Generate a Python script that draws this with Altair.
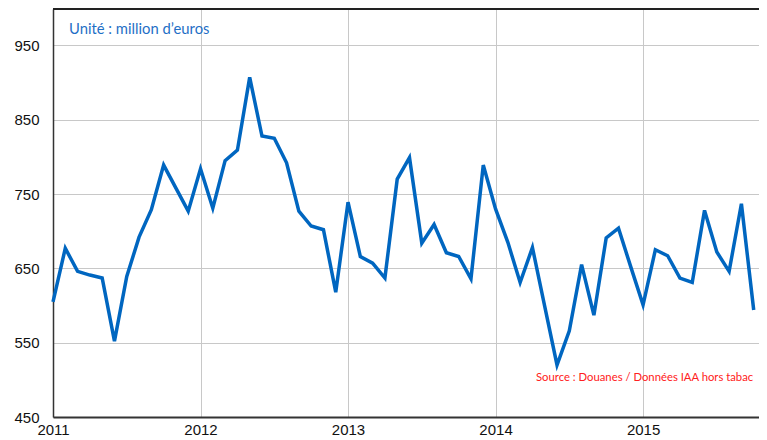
import altair as alt
import pandas as pd

# Monthly values, Jan 2011 .. Oct 2015 (million euros)
v2011 = [605, 677, 646, 641, 637, 552, 639, 692, 729, 789, 758, 727]
v2012 = [784, 731, 795, 809, 907, 828, 825, 792, 727, 707, 702, 618]
v2013 = [739, 666, 657, 637, 770, 799, 684, 709, 671, 666, 636, 789]
v2014 = [730, 685, 631, 678, 599, 520, 566, 655, 587, 691, 704, 652]
v2015 = [601, 675, 667, 637, 631, 728, 672, 646, 737, 594]

values = v2011 + v2012 + v2013 + v2014 + v2015
months = list(range(len(values)))
year_ticks = [0, 12, 24, 36, 48]
y_ticks = [450, 550, 650, 750, 850, 950]

unit_text = ["Unité : million d’euros"]
source_text = ["Source : Douanes / Données IAA hors tabac"]

df = pd.DataFrame({"m": months, "v": values})

W, H = 713, 408
FONT = "Liberation Sans"

x_enc = alt.X(
    "m:Q",
    scale=alt.Scale(domain=[0, 58], nice=False, zero=False),
    axis=alt.Axis(
        values=year_ticks,
        labelExpr="2011 + datum.value / 12",
        title=None,
        ticks=False,
        labelFontSize=15,
        labelFont=FONT,
        labelColor="#111111",
        labelPadding=5,
        labelFlush=False,
        domainColor="#333333",
        domainWidth=2,
        gridColor="#C8C8C8",
        gridWidth=1,
    ),
)
y_enc = alt.Y(
    "v:Q",
    scale=alt.Scale(domain=[450, 999], nice=False, zero=False),
    axis=alt.Axis(
        values=y_ticks,
        title=None,
        ticks=False,
        labelFontSize=15,
        labelFont=FONT,
        labelColor="#111111",
        labelPadding=14,
        domainColor="#333333",
        domainWidth=1.5,
        gridColor="#C8C8C8",
        gridWidth=1,
    ),
)

line = alt.Chart(df).mark_line(color="#0066C0", strokeWidth=3.5, strokeJoin="miter").encode(
    x=x_enc, y=y_enc
)

top_border = alt.Chart(df).mark_rule(color="#222222", strokeWidth=2).encode(
    x=alt.value(0), x2=alt.value(W), y=alt.value(0)
)
right_border = alt.Chart(df).mark_rule(color="#C8C8C8", strokeWidth=1).encode(
    x=alt.value(W), y=alt.value(0), y2=alt.value(H)
)

unit = alt.Chart(pd.DataFrame({"t": unit_text})).mark_text(
    align="left", baseline="middle", fontSize=14.8, font="Lato", color="#1F6FC6"
).encode(x=alt.value(16), y=alt.value(21), text="t:N")

source = alt.Chart(pd.DataFrame({"t": source_text})).mark_text(
    align="left", baseline="middle", fontSize=11.3, font="Lato", color="#FF2020"
).encode(x=alt.value(483), y=alt.value(369), text="t:N")

chart = (
    alt.layer(line, top_border, right_border, unit, source)
    .properties(
        width=W,
        height=H,
        padding={"left": 45, "top": 1, "right": -7, "bottom": 22},
        autosize=alt.AutoSizeParams(type="none"),
    )
    .configure_view(stroke=None)
    .configure(background="white")
)

chart.save("out.html", embed_options={"renderer": "svg", "actions": False})
